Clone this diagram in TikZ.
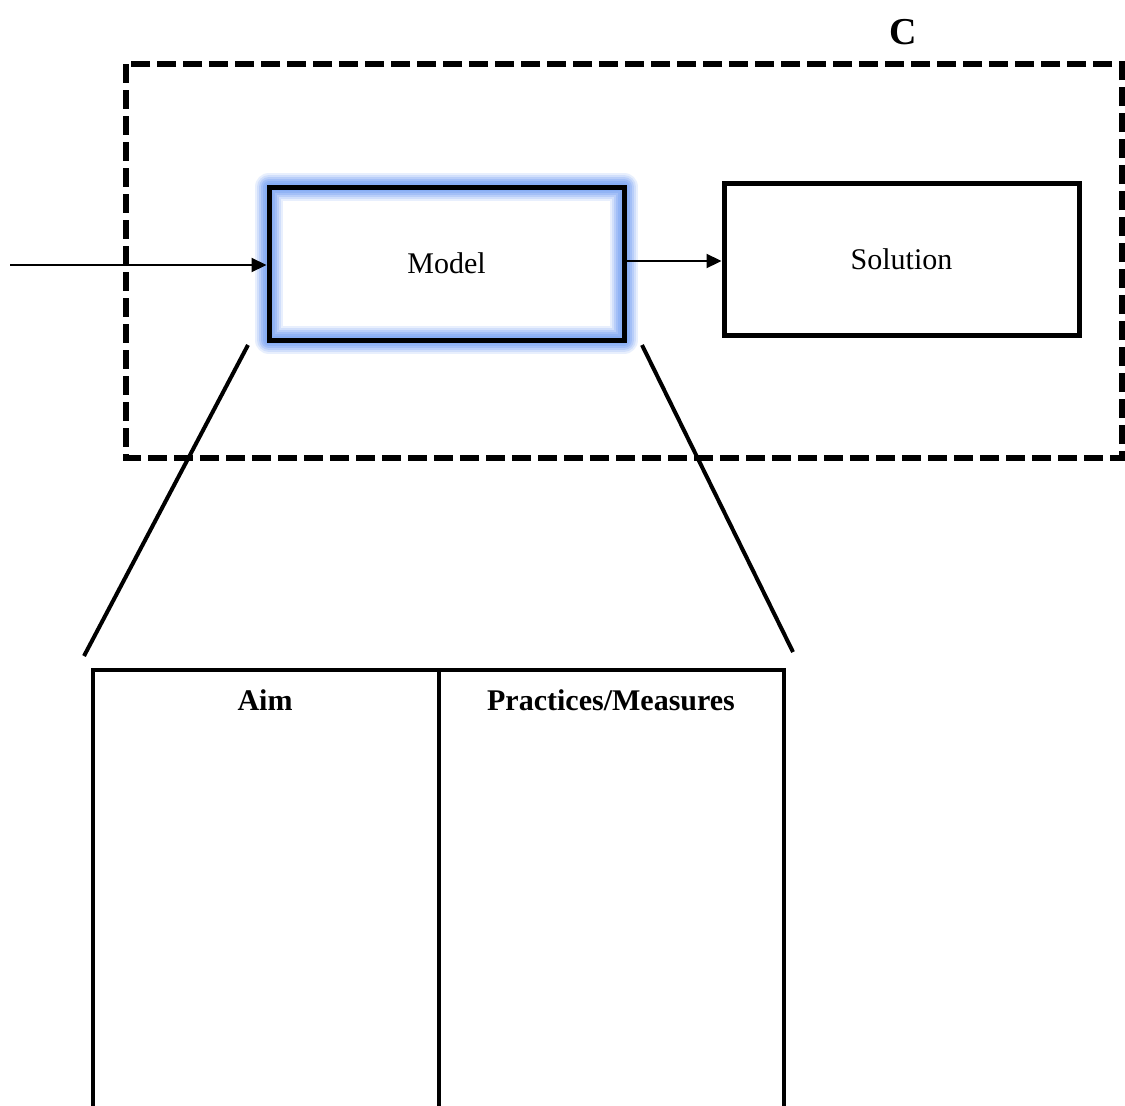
\documentclass[tikz,border=0pt]{standalone}
\usepackage{fontspec}
\setmainfont{Liberation Serif}
\usetikzlibrary{arrows.meta}
\definecolor{glowblue}{RGB}{130,170,245}
\tikzset{
  px/.style={x=1pt,y=-1pt},
  boxline/.style={draw=black,line width=5pt},
  frame/.style={draw=black,line width=5.5pt,dash pattern=on 19pt off 7pt},
  link/.style={draw=black,line width=2.2pt,-{Triangle[length=15pt,width=14pt]}},
  zoomline/.style={draw=black,line width=4pt},
  tableline/.style={draw=black,line width=4.5pt},
  plain/.style={font=\fontsize{30}{36}\selectfont},
  head/.style={font=\bfseries\fontsize{30}{36}\selectfont},
}
\begin{document}
\begin{tikzpicture}[px]
\useasboundingbox (0,0) rectangle (1125,1106);
\fill[white] (0,0) rectangle (1125,1106);

% dashed enclosure and its label
\draw[frame] (126,64) rectangle (1122,458);
\node[font=\bfseries\fontsize{38}{44}\selectfont] (clabel) at (903,32) {C};

% soft blue halo around the model box
\foreach \w/\o in {28/0.18,24/0.22,20/0.3,16/0.4,12/0.5,8/0.6}
  \draw[glowblue,line width=\w pt,opacity=\o,line join=round] (269,187) rectangle (624,340);

% model and solution boxes
\node[boxline,minimum width=355pt,minimum height=153pt,inner sep=0pt,plain] (model) at (446.5,263.5) {Model};
\node[boxline,minimum width=355pt,minimum height=152pt,inner sep=0pt,plain] (solution) at (901.5,259) {Solution};

% connectors
\coordinate (input) at (10,265);
\draw[link] (input) -- (model.west |- input);
\draw[link] (model.east |- 0,261) -- (solution.west |- 0,261);

% lines fanning out to the detail table
\coordinate (zl1) at (248,345);
\coordinate (zl2) at (84,656);
\coordinate (zr1) at (642,345);
\coordinate (zr2) at (793,652);
\draw[zoomline] (zl1) -- (zl2);
\draw[zoomline] (zr1) -- (zr2);

% detail table (continues below the page edge)
\coordinate (tl) at (93,670);
\coordinate (tm) at (439,670);
\coordinate (tr) at (784,670);
\draw[tableline] (93,1110) -- (tl) -- (tr) -- (784,1110);
\draw[tableline] (tm) -- (439,1110);
\node[head] (aim) at (265,700) {Aim};
\node[head] (practices) at (611,700) {Practices/Measures};
\end{tikzpicture}
\end{document}
